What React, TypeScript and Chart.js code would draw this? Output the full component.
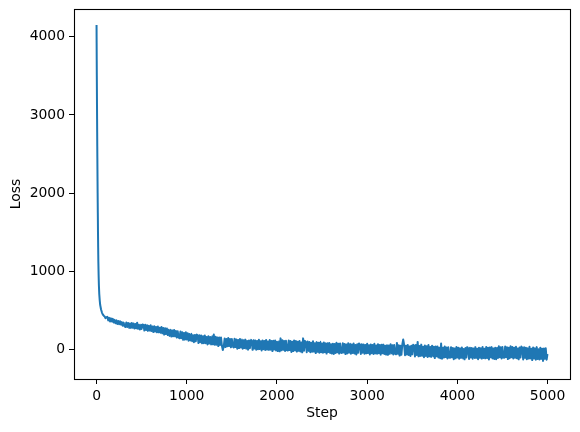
import React, { useEffect, useRef } from "react";
import { Chart, registerables } from "chart.js";

Chart.register(...registerables);

// Initial steep drop of the loss curve
const headSteps = [0, 2, 4, 6, 8, 10, 12, 14, 16, 18, 20, 23, 26, 30, 35, 40, 50, 60, 70, 80, 90, 100, 110];
const headLoss = [4150, 3700, 3300, 2950, 2600, 2300, 2000, 1750, 1500, 1300, 1120, 950, 820, 710, 630, 570, 510, 470, 445, 430, 420, 398, 412];

// Noisy part of the curve, one value every 10 steps from step 120
const bandStart = 120;
const bandInterval = 10;
const bandLoss = [
  415, 370, 403, 356, 396, 355, 390, 344, 377, 333, 371, 324, 362, 321, 360, 315, 348, 302, 342, 298,
  285, 343, 285, 337, 272, 331, 274, 336, 276, 330, 266, 323, 268, 340, 262, 314, 254, 316, 261, 318,
  313, 241, 313, 248, 308, 236, 300, 237, 307, 235, 291, 221, 295, 227, 287, 217, 291, 217, 275, 211,
  287, 205, 274, 188, 270, 196, 266, 183, 251, 172, 250, 164, 242, 167, 247, 166, 234, 151, 230, 151,
  141, 229, 142, 219, 121, 209, 124, 217, 127, 207, 111, 197, 114, 199, 104, 181, 91, 184, 102, 188,
  179, 80, 181, 91, 176, 77, 167, 79, 178, 79, 158, 62, 166, 73, 158, 62, 166, 64, 190, 58,
  162, 59, 150, 41, 150, 56, 150, 44, -10, 35, 138, 29, 132, 38, 144, 41, 132, 26, 132, 32,
  25, 136, 29, 127, 8, 119, 16, 133, 23, 125, 8, 116, 16, 124, 8, 106, -4, 114, 14, 123,
  112, -7, 118, 9, 114, -5, 106, 1, 122, 3, 102, -15, 114, 2, 106, -9, 120, -3, 99, -7,
  118, -4, 107, -23, 109, -2, 112, -14, 97, -22, 104, -26, 140, -13, 117, -6, 105, -21, 109, -10,
  -16, 113, -10, 105, -33, 97, -23, 114, -13, 106, -29, 97, -19, 107, -27, 88, -39, 140, -18, 108,
  92, -38, 99, -21, 93, -37, 85, -31, 102, -29, 78, -48, 92, -32, 83, -44, 96, -37, 73, -43,
  87, -36, 76, -55, 78, -34, 81, -46, 65, -54, 72, -59, 67, -46, 84, -39, 72, -55, 75, -44,
  -46, 77, -40, 69, -61, 61, -52, 78, -42, 70, -56, 63, -47, 73, -54, 55, -65, 65, -44, 75,
  59, -60, 65, -44, 62, -57, 54, -51, 71, -48, 51, -65, 63, -49, 56, -59, 70, -52, 50, -56,
  66, -50, 54, -68, 57, -49, 60, -60, 46, -67, 51, -71, 48, -58, 64, -52, 53, -66, 55, -57,
  -64, 82, -57, 53, -80, 45, -70, 62, 125, 55, -76, 47, -66, 56, -73, 37, -85, 47, -64, 58,
  49, -92, 56, -73, 95, -90, 41, -84, 60, -81, 34, -102, 49, -84, 40, -97, 54, -90, 29, -96,
  47, -90, 33, -112, 35, -90, 37, -104, 19, -114, 75, -120, 19, -106, 37, -99, 24, -117, 26, -106,
  -109, 27, -103, 18, -126, 10, -115, 29, -105, 20, -120, 12, -109, 24, -116, 5, -128, 16, -105, 28,
  12, -124, 20, -105, 16, -120, 9, -112, 28, -109, 6, -127, 21, -108, 13, -119, 29, -111, 6, -115,
  30, -110, 19, -129, 23, -103, 28, -116, 11, -123, 21, -127, 17, -111, 38, -101, 26, -118, 30, -106,
  -109, 35, -100, 27, -125, 19, -113, 38, -101, 30, -118, 21, -107, 33, -115, 11, -128, 24, -104, 35,
  19, -129, 27, -109, 21, -127, 12, -119, 32, -116, 6, -138, 22, -118, 12, -132, 28, -124, 2, -129,
  21, -122, 7, -148, 10, -120, 14, -133,
];

const tailSteps = [4999];
const tailLoss = [-60];

const xTicks = [0, 1000, 2000, 3000, 4000, 5000];
const yTicks = [0, 1000, 2000, 3000, 4000];

const FONT = { family: "'DejaVu Sans', sans-serif", size: 13.9 };

export default function App() {
  const ref = useRef<HTMLCanvasElement>(null);

  useEffect(() => {
    const canvas = ref.current;
    if (!canvas) return;
    const points: { x: number; y: number }[] = [];
    headSteps.forEach((s, i) => points.push({ x: s, y: headLoss[i] }));
    bandLoss.forEach((v, i) => points.push({ x: bandStart + i * bandInterval, y: v }));
    tailSteps.forEach((s, i) => points.push({ x: s, y: tailLoss[i] }));

    const frame = {
      id: "frame",
      afterDraw(chart: any) {
        const { ctx, chartArea } = chart;
        ctx.save();
        ctx.strokeStyle = "#000";
        ctx.lineWidth = 1.1;
        ctx.strokeRect(
          Math.round(chartArea.left) + 0.5,
          Math.round(chartArea.top) + 0.5,
          Math.round(chartArea.right - chartArea.left),
          Math.round(chartArea.bottom - chartArea.top)
        );
        ctx.restore();
      },
    };

    const chart = new Chart(canvas, {
      type: "line",
      data: {
        datasets: [
          {
            data: points,
            borderColor: "#1f77b4",
            borderWidth: 2,
            pointRadius: 0,
            tension: 0.000001,
            fill: false,
            borderJoinStyle: "round",
          },
        ],
      },
      options: {
        animation: false,
        responsive: false,
        devicePixelRatio: 1,
        layout: { padding: { left: 0, right: 10, top: 9, bottom: 0 } },
        plugins: { legend: { display: false }, tooltip: { enabled: false } },
        scales: {
          x: {
            type: "linear",
            min: -250,
            max: 5249,
            afterFit: (s: any) => {
              s.height = 53;
              s.paddingLeft = 0;
              s.paddingRight = 0;
            },
            afterBuildTicks: (s: any) => {
              s.ticks = xTicks.map((v) => ({ value: v }));
            },
            ticks: {
              font: FONT,
              color: "#000",
              padding: 4,
              maxRotation: 0,
              callback: (v: any) => String(v),
            },
            grid: {
              display: true,
              drawOnChartArea: false,
              drawTicks: true,
              tickLength: 5,
              color: "#000",
              lineWidth: 1,
            },
            border: { display: false },
            title: {
              display: true,
              text: "Step",
              font: FONT,
              color: "#000",
              padding: { top: 0, bottom: 10 },
            },
          },
          y: {
            type: "linear",
            min: -380,
            max: 4356,
            afterFit: (s: any) => {
              s.width = 74;
              s.paddingTop = 0;
              s.paddingBottom = 0;
            },
            afterBuildTicks: (s: any) => {
              s.ticks = yTicks.map((v) => ({ value: v }));
            },
            ticks: {
              font: FONT,
              color: "#000",
              padding: 4,
              callback: (v: any) => String(v),
            },
            grid: {
              display: true,
              drawOnChartArea: false,
              drawTicks: true,
              tickLength: 5,
              color: "#000",
              lineWidth: 1,
            },
            border: { display: false },
            title: {
              display: true,
              text: "Loss",
              font: FONT,
              color: "#000",
              padding: { top: 8, bottom: 0 },
            },
          },
        },
      },
      plugins: [frame],
    });
    return () => chart.destroy();
  }, []);

  return (
    <div style={{ position: "absolute", left: 0, top: 0, width: 580, height: 432, background: "#fff" }}>
      <canvas ref={ref} width={580} height={432} style={{ display: "block", width: 580, height: 432 }} />
    </div>
  );
}
